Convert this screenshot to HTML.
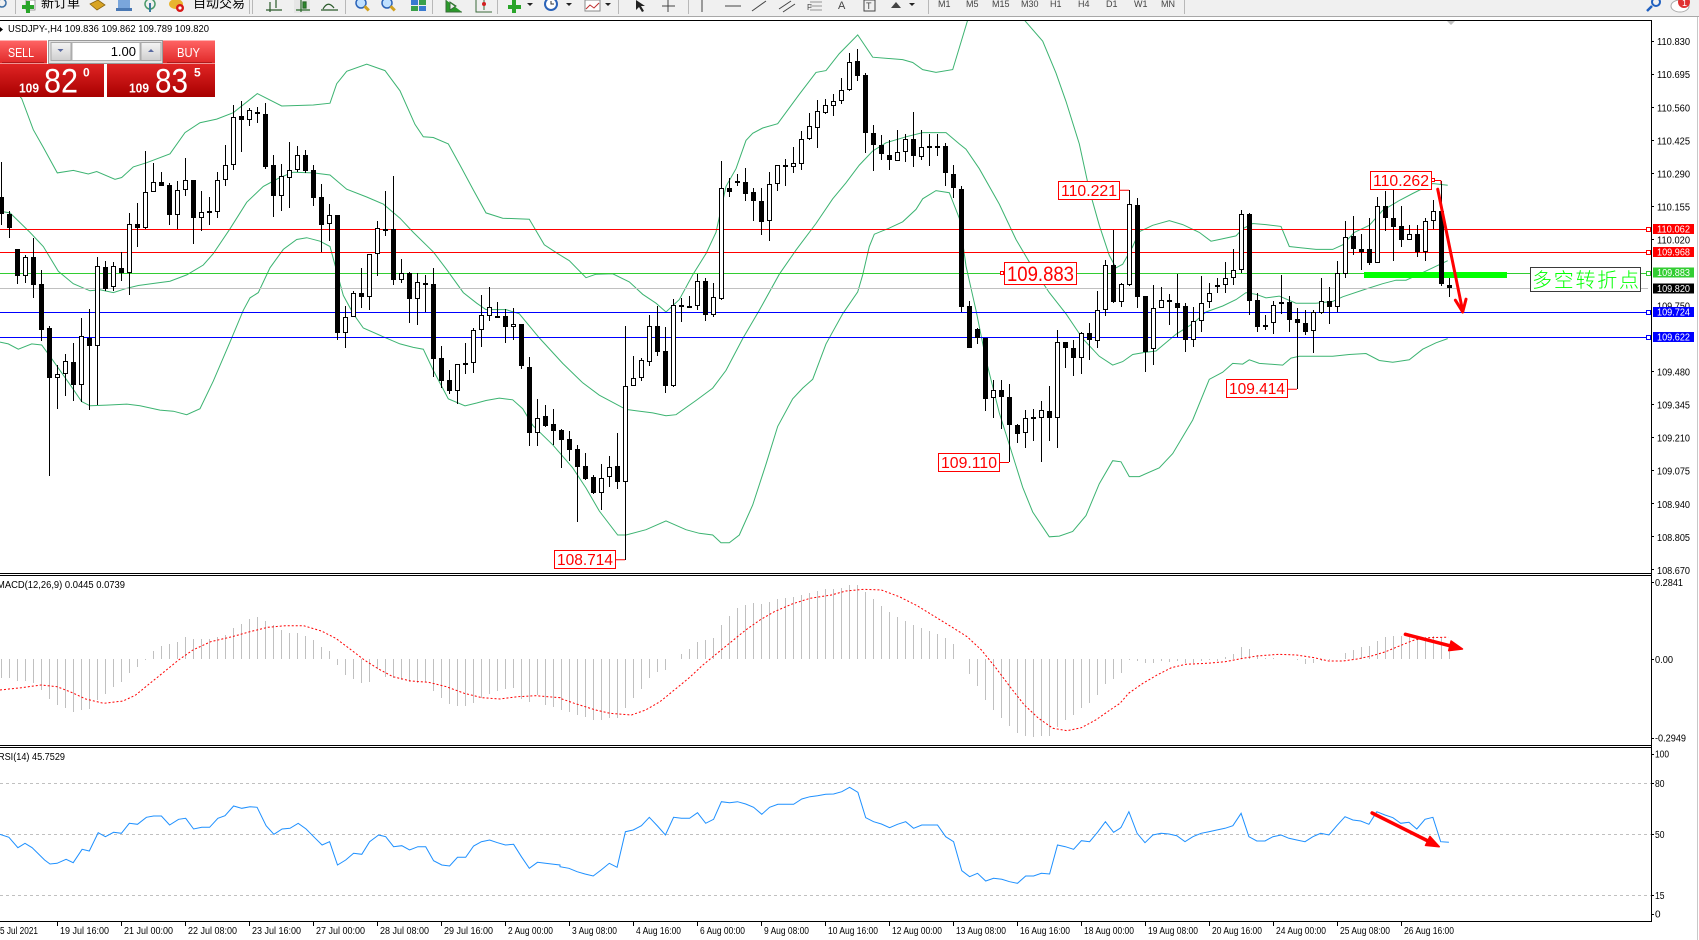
<!DOCTYPE html>
<html><head><meta charset="utf-8">
<style>
html,body{margin:0;padding:0;background:#fff;overflow:hidden;width:1699px;height:940px;}
svg{display:block;font-family:"Liberation Sans","Noto Sans CJK SC",sans-serif;}
</style></head>
<body>
<svg id="s" width="1699" height="940" viewBox="0 0 1699 940" xmlns="http://www.w3.org/2000/svg">
<defs>
 <clipPath id="cm"><rect x="0" y="21" width="1651" height="552"/></clipPath>
 <clipPath id="cd"><rect x="0" y="576" width="1651" height="169"/></clipPath>
 <clipPath id="cr"><rect x="0" y="748" width="1651" height="173"/></clipPath>
 <linearGradient id="gs" x1="0" y1="0" x2="0" y2="1"><stop offset="0" stop-color="#ff6464"/><stop offset="1" stop-color="#e02828"/></linearGradient>
 <linearGradient id="gp" x1="0" y1="0" x2="0" y2="1"><stop offset="0" stop-color="#e02424"/><stop offset="1" stop-color="#a80000"/></linearGradient>
 <linearGradient id="gb" x1="0" y1="0" x2="0" y2="1"><stop offset="0" stop-color="#f4f4f4"/><stop offset="1" stop-color="#cfcfcf"/></linearGradient>
</defs>
<rect width="1699" height="940" fill="#fff"/>

<!-- toolbar -->
<rect x="0" y="0" width="1699" height="16" fill="#f0f0f0"/>
<rect x="0" y="16" width="1699" height="1" fill="#a8a8a8"/>
<circle cx="2" cy="3" r="4" fill="none" stroke="#3a6ea5" stroke-width="1.5"/>
<rect x="15" y="0" width="1" height="14" fill="#b8b8b8"/>
<rect x="26" y="0" width="9" height="10" fill="#fff" stroke="#888" stroke-width="0.8"/>
<rect x="22" y="5" width="12" height="4" fill="#2aa52a"/><rect x="26" y="1" width="4" height="12" fill="#2aa52a"/>
<text x="41" y="7.5" font-size="13" fill="#000" font-family="Liberation Sans,Noto Sans CJK SC,sans-serif">新订单</text>
<polygon points="90,4 98,0 105,5 97,10" fill="#d8a424" stroke="#8a6410" stroke-width="0.8"/>
<rect x="118" y="0" width="12" height="8" fill="#7aa6dc"/><rect x="116" y="8" width="16" height="3" fill="#4a78b4"/>
<circle cx="150" cy="4" r="5" fill="none" stroke="#4a9a6a" stroke-width="1.5"/><rect x="149" y="3" width="2" height="9" fill="#3a7aa0"/>
<ellipse cx="176" cy="4" rx="7" ry="5" fill="#e8b430"/><circle cx="180" cy="8" r="4" fill="#d81818"/><circle cx="180" cy="8" r="1.6" fill="#fff"/>
<text x="193" y="7.5" font-size="13" fill="#000" font-family="Liberation Sans,Noto Sans CJK SC,sans-serif">自动交易</text>
<rect x="249" y="0" width="1" height="14" fill="#b8b8b8"/><rect x="252" y="0" width="1" height="14" fill="#b8b8b8"/>
<path d="M266 10 H282 M270 2 V12 M276 0 V8" stroke="#2a5a2a" stroke-width="1.2" fill="none"/>
<rect x="294" y="0" width="16" height="13" fill="#e6e6e6"/><path d="M296 10 H310 M301 0 V12 M303 2 h3 v6 h-3z" stroke="#2a6a2a" stroke-width="1.2" fill="#2a8a2a"/>
<path d="M321 10 H338 M323 9 Q328 0 334 8" stroke="#2a5a2a" stroke-width="1.2" fill="none"/>
<rect x="345" y="0" width="1" height="14" fill="#b8b8b8"/>
<circle cx="361" cy="3" r="5" fill="#bfe0ff" stroke="#2b63b8" stroke-width="1.5"/><rect x="364" y="7" width="6" height="3" fill="#d0a020" transform="rotate(45 367 8)"/>
<circle cx="387" cy="3" r="5" fill="#bfe0ff" stroke="#2b63b8" stroke-width="1.5"/><rect x="390" y="7" width="6" height="3" fill="#d0a020" transform="rotate(45 393 8)"/>
<rect x="411" y="0" width="7" height="5" fill="#3a7ad0"/><rect x="419" y="0" width="7" height="5" fill="#3aa04a"/><rect x="411" y="6" width="7" height="5" fill="#3aa04a"/><rect x="419" y="6" width="7" height="5" fill="#3a7ad0"/>
<rect x="432" y="0" width="1" height="14" fill="#b8b8b8"/>
<path d="M446 0 V12 H462 M450 2 l6 4 -6 4z" stroke="#3a6a3a" stroke-width="1" fill="#2a9a2a"/>
<path d="M476 0 V12 H492 M484 0 V10" stroke="#3a6a3a" stroke-width="1" fill="none"/><circle cx="484" cy="4" r="2" fill="#d02020"/>
<rect x="497" y="0" width="1" height="14" fill="#b8b8b8"/>
<rect x="508" y="5" width="13" height="4" fill="#2aa52a"/><rect x="512" y="0" width="4" height="13" fill="#2aa52a"/><path d="M527 3 l3 3 3-3z" fill="#222"/>
<circle cx="551" cy="4" r="6" fill="#fff" stroke="#2b63b8" stroke-width="2"/><path d="M551 1 V4 H554" stroke="#333" fill="none"/><path d="M566 3 l3 3 3-3z" fill="#222"/>
<rect x="585" y="0" width="15" height="11" fill="#fff" stroke="#888"/><path d="M586 9 l4-4 4 3 5-5" stroke="#c03030" fill="none"/><path d="M605 3 l3 3 3-3z" fill="#222"/>
<rect x="618" y="0" width="1" height="14" fill="#b8b8b8"/>
<path d="M636 0 l0 10 3-3 3 5 2-1-3-5 4 0z" fill="#222"/>
<path d="M668 0 V12 M662 6 H675" stroke="#444" stroke-width="1"/>
<rect x="688" y="0" width="1" height="14" fill="#b8b8b8"/>
<path d="M702 0 V12" stroke="#444"/><path d="M725 6 H741" stroke="#444"/><path d="M752 11 L766 1" stroke="#444"/>
<path d="M779 9 L791 1 M783 12 L795 4" stroke="#444"/><text x="807" y="10" font-size="8" fill="#444">F</text>
<path d="M810 2 H822 M810 6 H822 M810 10 H822" stroke="#777" stroke-width="0.8"/>
<text x="838" y="9" font-size="11" fill="#444">A</text><rect x="864" y="0" width="11" height="11" fill="none" stroke="#444"/><text x="866" y="9" font-size="9" fill="#444">T</text>
<path d="M891 8 l5-6 5 6z" fill="#444"/><path d="M909 3 l3 3 3-3z" fill="#222"/>
<rect x="928" y="0" width="1" height="14" fill="#b8b8b8"/>
<g font-size="9" fill="#444">
<text x="938" y="7">M1</text><text x="966" y="7">M5</text><text x="992" y="7">M15</text><text x="1021" y="7">M30</text><text x="1050" y="7">H1</text><text x="1078" y="7">H4</text><text x="1106" y="7">D1</text><text x="1134" y="7">W1</text><text x="1161" y="7">MN</text>
</g>
<rect x="1184" y="0" width="1" height="14" fill="#b8b8b8"/>
<circle cx="1656" cy="2" r="4" fill="none" stroke="#2060c0" stroke-width="2"/><path d="M1652 6 L1647 11" stroke="#2060c0" stroke-width="2.5"/>
<ellipse cx="1680" cy="6" rx="9" ry="6" fill="#fff" stroke="#aaa"/><circle cx="1684" cy="2" r="6" fill="#e03030"/><text x="1682" y="6" font-size="9" fill="#fff">1</text>

<!-- right window gray border -->
<rect x="1697" y="17" width="1" height="923" fill="#c8c8c8"/>

<!-- main chart content -->
<g clip-path="url(#cm)">
 <g id="bb" fill="none" stroke="#3cb371" stroke-width="1"></g>
 <g shape-rendering="crispEdges">
  <rect x="0" y="229" width="1648" height="1" fill="#ff0000"/>
  <rect x="0" y="252" width="1648" height="1" fill="#ff0000"/>
  <rect x="0" y="273" width="1648" height="1" fill="#32cd32"/>
  <rect x="0" y="288" width="1648" height="1" fill="#c0c0c0"/>
  <rect x="0" y="312" width="1648" height="1" fill="#0000ff"/>
  <rect x="0" y="337" width="1648" height="1" fill="#0000ff"/>
 </g>
 <rect x="1364" y="272" width="143" height="6" fill="#00ff00"/>
 <g id="candles" shape-rendering="crispEdges"></g>
 <!-- line end markers -->
 <g fill="#fff" stroke-width="1">
  <rect x="1646.5" y="227.5" width="4" height="4" stroke="#ff0000"/>
  <rect x="1646.5" y="250.5" width="4" height="4" stroke="#ff0000"/>
  <rect x="1646.5" y="271.5" width="4" height="4" stroke="#32cd32"/>
  <rect x="1646.5" y="310.5" width="4" height="4" stroke="#0000ff"/>
  <rect x="1646.5" y="335.5" width="4" height="4" stroke="#0000ff"/>
 </g>
 <!-- price label objects -->
 <g fill="#fff" stroke="#ff0000" stroke-width="1">
  <rect x="554.5" y="550.5" width="61" height="18"/>
  <rect x="938.5" y="453.5" width="61" height="18"/>
  <rect x="1058.5" y="181.5" width="61" height="18"/>
  <rect x="1226.5" y="379.5" width="61" height="18"/>
  <rect x="1370.5" y="171.5" width="61" height="18"/>
  <rect x="1004.5" y="262.5" width="72" height="22"/>
  <path d="M615.5 559.8 H625 M999.5 462.5 H1009 M1119.5 190.3 H1129 M1287.5 389.2 H1297 M1431.5 180.5 H1441 M1441 180.5 V184" fill="none"/>
  <rect x="1431.5" y="178.5" width="3" height="3"/>
  <rect x="1000.5" y="271.5" width="3" height="3"/>
 </g>
 <g fill="#ff0000" font-size="16">
  <text x="557" y="565" textLength="56" lengthAdjust="spacingAndGlyphs">108.714</text>
  <text x="941" y="468" textLength="56" lengthAdjust="spacingAndGlyphs">109.110</text>
  <text x="1061" y="196" textLength="56" lengthAdjust="spacingAndGlyphs">110.221</text>
  <text x="1229" y="394" textLength="56" lengthAdjust="spacingAndGlyphs">109.414</text>
  <text x="1373" y="186" textLength="56" lengthAdjust="spacingAndGlyphs">110.262</text>
  <text x="1007" y="281" font-size="21" textLength="67" lengthAdjust="spacingAndGlyphs">109.883</text>
 </g>
 <!-- red arrow -->
 <g stroke="#ff0000" stroke-width="3" fill="none" stroke-linecap="round" stroke-linejoin="round">
  <path d="M1437.7 189.2 L1462.7 311"/>
  <path d="M1455.4 300.2 L1462.7 312 L1466 299.2"/>
 </g>
 <!-- chinese label -->
 <rect x="1530.5" y="267.5" width="110" height="24" fill="#fff" stroke="#3a3a3a" stroke-width="1"/>
 <text x="1532" y="287" font-size="20" font-weight="300" fill="#00ff00" textLength="107" lengthAdjust="spacing" font-family="Liberation Sans,Noto Sans CJK SC,sans-serif">多空转折点</text>
 <polygon points="1447,21 1455,21 1451,25" fill="#c0c0c0"/>
</g>

<!-- MACD -->
<g clip-path="url(#cd)">
 <g id="hist" shape-rendering="crispEdges" fill="#c0c0c0"></g>
 <polyline id="sig" fill="none" stroke="#ff0000" stroke-width="1" stroke-dasharray="2,2"/>
 <g stroke="#ff0000" stroke-width="3.5" fill="#ff0000" stroke-linecap="round">
  <path d="M1405.4 634.3 L1452 646.3"/>
  <polygon points="1462.5,649 1448.7,650.6 1451.1,641" stroke-width="1.5" stroke-linejoin="round"/>
 </g>
</g>
<text x="-3" y="588" font-size="10" fill="#000" textLength="128" lengthAdjust="spacingAndGlyphs">MACD(12,26,9) 0.0445 0.0739</text>

<!-- RSI -->
<g clip-path="url(#cr)">
 <g stroke="#c0c0c0" stroke-width="1" stroke-dasharray="3,3">
  <path d="M0 783.5 H1651 M0 834.5 H1651 M0 895.5 H1651"/>
 </g>
 <polyline id="rsi" fill="none" stroke="#1e90ff" stroke-width="1"/>
 <g stroke="#ff0000" stroke-width="3.5" fill="#ff0000" stroke-linecap="round">
  <path d="M1372.1 813 L1430 842"/>
  <polygon points="1439.3,846.7 1425.5,845.4 1429.9,836.4" stroke-width="1.5" stroke-linejoin="round"/>
 </g>
</g>
<text x="-2" y="760" font-size="10" fill="#000" textLength="67" lengthAdjust="spacingAndGlyphs">RSI(14) 45.7529</text>

<!-- frames -->
<g shape-rendering="crispEdges" fill="#000">
 <rect x="0" y="20" width="1651" height="1"/>
 <rect x="0" y="573" width="1652" height="1"/>
 <rect x="0" y="575" width="1652" height="1"/>
 <rect x="0" y="745" width="1652" height="1"/>
 <rect x="0" y="747" width="1652" height="1"/>
 <rect x="0" y="921" width="1652" height="1"/>
 <rect x="1651" y="20" width="1" height="902"/>
</g>

<!-- main title -->
<polygon points="0,27 3,29.5 0,32" fill="#000"/>
<text x="8" y="32" font-size="10.5" fill="#000" textLength="201" lengthAdjust="spacingAndGlyphs">USDJPY-,H4  109.836 109.862 109.789 109.820</text>

<!-- SELL/BUY panel -->
<rect x="0" y="40.5" width="47" height="23" fill="url(#gs)"/>
<rect x="2" y="62" width="42" height="1" fill="#b01818"/>
<text x="8" y="57" font-size="13" fill="#fff" textLength="26" lengthAdjust="spacingAndGlyphs">SELL</text>
<rect x="48.5" y="40.5" width="114" height="23" fill="#e2e2e2" stroke="#9a9a9a"/>
<rect x="51" y="42.5" width="20" height="18" fill="url(#gb)" stroke="#a8a8a8"/>
<polygon points="57.5,49 63.5,49 60.5,52" fill="#5a6aa0"/>
<rect x="72" y="42.5" width="68" height="18" fill="#fff" stroke="#b0b0b0"/>
<text x="136" y="56" font-size="13" fill="#000" text-anchor="end">1.00</text>
<rect x="141" y="42.5" width="20" height="18" fill="url(#gb)" stroke="#a8a8a8"/>
<polygon points="148,52 154,52 151,49" fill="#5a6aa0"/>
<rect x="163" y="40.5" width="52" height="23" fill="url(#gs)"/>
<rect x="167" y="62" width="45" height="1" fill="#b01818"/>
<text x="177" y="57" font-size="13" fill="#fff" textLength="23" lengthAdjust="spacingAndGlyphs">BUY</text>
<rect x="0" y="64" width="104" height="33" fill="url(#gp)"/>
<rect x="107" y="64" width="108" height="33" fill="url(#gp)"/>
<g fill="#fff">
 <text x="19" y="92.5" font-size="13" font-weight="bold" textLength="20" lengthAdjust="spacingAndGlyphs">109</text>
 <text x="44" y="92.5" font-size="34" textLength="34" lengthAdjust="spacingAndGlyphs">82</text>
 <text x="83" y="76.5" font-size="12" font-weight="bold">0</text>
 <text x="129" y="92.5" font-size="13" font-weight="bold" textLength="20" lengthAdjust="spacingAndGlyphs">109</text>
 <text x="155" y="92.5" font-size="34" textLength="33" lengthAdjust="spacingAndGlyphs">83</text>
 <text x="194" y="76.5" font-size="12" font-weight="bold">5</text>
</g>

<!-- price axis -->
<g shape-rendering="crispEdges" fill="#000">
 <rect x="1651" y="41" width="3" height="1"/><rect x="1651" y="74" width="3" height="1"/><rect x="1651" y="107" width="3" height="1"/><rect x="1651" y="140" width="3" height="1"/><rect x="1651" y="173" width="3" height="1"/><rect x="1651" y="206" width="3" height="1"/><rect x="1651" y="239" width="3" height="1"/><rect x="1651" y="371" width="3" height="1"/><rect x="1651" y="404" width="3" height="1"/><rect x="1651" y="437" width="3" height="1"/><rect x="1651" y="470" width="3" height="1"/><rect x="1651" y="503" width="3" height="1"/><rect x="1651" y="536" width="3" height="1"/><rect x="1651" y="569" width="3" height="1"/>
 <rect x="1651" y="582" width="3" height="1"/><rect x="1651" y="659" width="3" height="1"/><rect x="1651" y="738" width="3" height="1"/>
 <rect x="1651" y="754" width="3" height="1"/><rect x="1651" y="783" width="3" height="1"/><rect x="1651" y="834" width="3" height="1"/><rect x="1651" y="895" width="3" height="1"/><rect x="1651" y="914" width="3" height="1"/>
</g>
<g font-size="10" fill="#000">
 <text x="1657" y="45.2" textLength="33" lengthAdjust="spacingAndGlyphs">110.830</text>
 <text x="1657" y="78.2" textLength="33" lengthAdjust="spacingAndGlyphs">110.695</text>
 <text x="1657" y="111.3" textLength="33" lengthAdjust="spacingAndGlyphs">110.560</text>
 <text x="1657" y="144.3" textLength="33" lengthAdjust="spacingAndGlyphs">110.425</text>
 <text x="1657" y="177.4" textLength="33" lengthAdjust="spacingAndGlyphs">110.290</text>
 <text x="1657" y="210.4" textLength="33" lengthAdjust="spacingAndGlyphs">110.155</text>
 <text x="1657" y="243.5" textLength="33" lengthAdjust="spacingAndGlyphs">110.020</text>
 <text x="1657" y="309.5" textLength="33" lengthAdjust="spacingAndGlyphs">109.750</text>
 <text x="1657" y="375.6" textLength="33" lengthAdjust="spacingAndGlyphs">109.480</text>
 <text x="1657" y="408.6" textLength="33" lengthAdjust="spacingAndGlyphs">109.345</text>
 <text x="1657" y="441.7" textLength="33" lengthAdjust="spacingAndGlyphs">109.210</text>
 <text x="1657" y="474.7" textLength="33" lengthAdjust="spacingAndGlyphs">109.075</text>
 <text x="1657" y="507.8" textLength="33" lengthAdjust="spacingAndGlyphs">108.940</text>
 <text x="1657" y="540.8" textLength="33" lengthAdjust="spacingAndGlyphs">108.805</text>
 <text x="1657" y="573.8" textLength="33" lengthAdjust="spacingAndGlyphs">108.670</text>
 <text x="1655" y="585.8" textLength="28" lengthAdjust="spacingAndGlyphs">0.2841</text>
 <text x="1655" y="662.8" textLength="18" lengthAdjust="spacingAndGlyphs">0.00</text>
 <text x="1655" y="741.5" textLength="31" lengthAdjust="spacingAndGlyphs">-0.2949</text>
 <text x="1655" y="757.5" textLength="14" lengthAdjust="spacingAndGlyphs">100</text>
 <text x="1655" y="786.8" textLength="9.5" lengthAdjust="spacingAndGlyphs">80</text>
 <text x="1655" y="837.8" textLength="9.5" lengthAdjust="spacingAndGlyphs">50</text>
 <text x="1655" y="898.8" textLength="9.5" lengthAdjust="spacingAndGlyphs">15</text>
 <text x="1655" y="917.5">0</text>
</g>
<!-- coloured axis labels -->
<g shape-rendering="crispEdges">
 <rect x="1653" y="224" width="41" height="10" fill="#ff0000"/>
 <rect x="1653" y="247" width="41" height="10" fill="#ff0000"/>
 <rect x="1653" y="267.5" width="41" height="10" fill="#32cd32"/>
 <rect x="1653" y="283.5" width="41" height="10" fill="#000000"/>
 <rect x="1653" y="307" width="41" height="10" fill="#0000ff"/>
 <rect x="1653" y="332" width="41" height="10" fill="#0000ff"/>
</g>
<g font-size="10" fill="#fff">
 <text x="1657" y="232.7" textLength="33" lengthAdjust="spacingAndGlyphs">110.062</text>
 <text x="1657" y="255.7" textLength="33" lengthAdjust="spacingAndGlyphs">109.968</text>
 <text x="1657" y="276.2" textLength="33" lengthAdjust="spacingAndGlyphs">109.883</text>
 <text x="1657" y="292.2" textLength="33" lengthAdjust="spacingAndGlyphs">109.820</text>
 <text x="1657" y="315.7" textLength="33" lengthAdjust="spacingAndGlyphs">109.724</text>
 <text x="1657" y="340.7" textLength="33" lengthAdjust="spacingAndGlyphs">109.622</text>
</g>

<!-- time axis -->
<g id="tticks" shape-rendering="crispEdges" fill="#000"></g>
<g font-size="10" fill="#000">
 <text x="0" y="934" textLength="38" lengthAdjust="spacingAndGlyphs">5 Jul 2021</text>
 <text x="60" y="934" textLength="49" lengthAdjust="spacingAndGlyphs">19 Jul 16:00</text>
 <text x="124" y="934" textLength="49" lengthAdjust="spacingAndGlyphs">21 Jul 00:00</text>
 <text x="188" y="934" textLength="49" lengthAdjust="spacingAndGlyphs">22 Jul 08:00</text>
 <text x="252" y="934" textLength="49" lengthAdjust="spacingAndGlyphs">23 Jul 16:00</text>
 <text x="316" y="934" textLength="49" lengthAdjust="spacingAndGlyphs">27 Jul 00:00</text>
 <text x="380" y="934" textLength="49" lengthAdjust="spacingAndGlyphs">28 Jul 08:00</text>
 <text x="444" y="934" textLength="49" lengthAdjust="spacingAndGlyphs">29 Jul 16:00</text>
 <text x="508" y="934" textLength="45" lengthAdjust="spacingAndGlyphs">2 Aug 00:00</text>
 <text x="572" y="934" textLength="45" lengthAdjust="spacingAndGlyphs">3 Aug 08:00</text>
 <text x="636" y="934" textLength="45" lengthAdjust="spacingAndGlyphs">4 Aug 16:00</text>
 <text x="700" y="934" textLength="45" lengthAdjust="spacingAndGlyphs">6 Aug 00:00</text>
 <text x="764" y="934" textLength="45" lengthAdjust="spacingAndGlyphs">9 Aug 08:00</text>
 <text x="828" y="934" textLength="50" lengthAdjust="spacingAndGlyphs">10 Aug 16:00</text>
 <text x="892" y="934" textLength="50" lengthAdjust="spacingAndGlyphs">12 Aug 00:00</text>
 <text x="956" y="934" textLength="50" lengthAdjust="spacingAndGlyphs">13 Aug 08:00</text>
 <text x="1020" y="934" textLength="50" lengthAdjust="spacingAndGlyphs">16 Aug 16:00</text>
 <text x="1084" y="934" textLength="50" lengthAdjust="spacingAndGlyphs">18 Aug 00:00</text>
 <text x="1148" y="934" textLength="50" lengthAdjust="spacingAndGlyphs">19 Aug 08:00</text>
 <text x="1212" y="934" textLength="50" lengthAdjust="spacingAndGlyphs">20 Aug 16:00</text>
 <text x="1276" y="934" textLength="50" lengthAdjust="spacingAndGlyphs">24 Aug 00:00</text>
 <text x="1340" y="934" textLength="50" lengthAdjust="spacingAndGlyphs">25 Aug 08:00</text>
 <text x="1404" y="934" textLength="50" lengthAdjust="spacingAndGlyphs">26 Aug 16:00</text>
</g>
</svg>
<script>
(function(){
var NS='http://www.w3.org/2000/svg';
function el(p,t,a){var e=document.createElementNS(NS,t);for(var k in a)e.setAttribute(k,a[k]);p.appendChild(e);return e;}
function P(arr,x0,sx,y0,sy){var o=[];for(var i=0;i<arr.length;i+=2)o.push((x0+arr[i]/sx).toFixed(1)+','+(y0+arr[i+1]/sy).toFixed(1));return o;}
var C=[
400,500,548,580,0, 540,548,587,615,0, 648,648,724,745,0, 665,670,724,742,1, 616,670,748,784,0,
706,746,875,908,0, 865,870,1010,1287,0, 975,1000,1010,1098,1, 944,964,1001,1062,1, 912,966,1030,1075,0,
842,894,1030,1078,1, 816,897,920,1103,0, 670,696,922,1087,1, 680,698,760,766,0, 684,696,755,766,1,
654,702,714,738,0, 546,577,714,776,1, 517,577,587,640,0, 370,487,587,590,1, 404,458,487,487,1,
430,458,468,470,0, 460,466,552,580,0, 455,479,552,590,1, 390,453,479,496,1, 453,453,558,632,0,
484,543,560,595,1, 500,540,543,580,0, 428,451,543,560,1, 353,410,453,468,1, 240,275,410,425,1,
230,271,283,372,0, 248,255,283,300,1, 245,260,262,290,0, 235,266,414,422,0, 382,410,496,557,0,
408,440,496,540,1, 345,425,446,532,1, 355,380,425,430,1, 368,380,427,432,0, 410,425,502,525,0,
462,500,580,655,0, 520,550,577,625,1, 552,552,885,903,0, 808,838,885,928,1, 766,772,838,840,1,
702,772,782,815,0, 662,662,782,818,1, 567,587,662,722,1, 482,590,596,610,0, 441,590,735,750,0,
676,715,735,742,1, 712,715,788,856,0, 716,740,788,862,1, 720,742,748,826,0, 702,746,958,1008,0,
920,955,1020,1040,0, 990,1017,1048,1056,0, 972,972,1048,1085,1, 912,968,975,1000,1, 870,876,970,998,1,
776,833,876,925,1, 755,810,835,850,1,
797,836,838,840,0, 817,836,868,913,0, 815,860,868,903,1, 860,860,978,985,0, 953,980,1168,1203,0,
1072,1123,1168,1203,1, 1088,1120,1146,1150,0, 1100,1140,1160,1200,0, 1155,1158,1186,1265,0, 1160,1185,1214,1245,0,
1200,1212,1262,1417,0, 1223,1260,1297,1300,0, 1285,1290,1335,1340,0, 1253,1295,1337,1383,1, 1232,1262,1292,1318,1,
1167,1260,1304,1325,0, 865,1035,1304,1525,1, 948,1010,1035,1035,1, 955,960,1010,1020,1, 833,865,965,978,1,
808,865,937,950,0, 868,935,1035,1053,0, 788,805,1035,1038,1, 785,806,808,852,1, 780,808,812,815,0,
717,738,808,818,1, 728,738,832,850,0, 744,783,832,838,1, 397,476,787,790,1, 446,476,486,500,0,
436,456,460,468,0, 418,458,491,510,0, 475,486,510,567,0, 475,510,570,608,0, 428,462,567,624,1,
409,410,462,483,1, 393,410,415,470,0, 360,405,416,432,1, 314,335,406,425,1, 262,300,335,340,1,
226,258,306,363,1, 222,240,262,266,1, 210,228,242,270,1, 165,197,228,236,1, 92,120,197,200,1,
82,117,157,172,0, 150,155,318,375,0, 297,318,352,427,0, 325,352,378,395,0, 340,380,396,423,0,
312,374,397,398,1, 322,337,374,400,1, 260,337,385,415,0, 312,360,388,396,1, 322,356,362,413,0,
322,356,358,385,0, 348,355,433,468,0, 410,435,476,502,0, 470,477,810,825,0, 795,808,928,928,0,
870,873,897,915,0, 897,897,1070,1105,0, 1018,1045,1068,1125,1, 1018,1045,1065,1155,0, 1028,1065,1145,1250,0,
1140,1143,1170,1195,0, 1103,1123,1168,1210,1, 1098,1121,1124,1190,1, 1077,1103,1123,1250,1, 1035,1105,1125,1188,0,
877,910,1125,1210,1, 910,910,928,983,0, 905,928,956,1005,0, 880,885,956,1000,1, 857,885,905,960,0,
765,818,908,928,1, 678,692,818,835,1, 593,692,798,800,0, 742,745,798,812,1, 480,520,750,752,1,
503,522,783,815,0, 780,780,937,995,0, 750,815,930,975,1, 755,790,813,815,1, 775,790,798,863,0,
718,800,813,895,0, 800,808,905,937,0, 812,850,905,925,1, 722,800,850,880,1, 742,772,798,815,1,
730,748,750,772,1, 685,730,750,772,1, 648,707,730,750,1, 537,548,707,714,1, 545,548,793,832,0,
770,792,868,880,0, 832,862,868,875,1, 793,805,857,888,1, 720,797,803,830,1, 780,797,847,882,0,
815,845,857,1043,0, 820,857,880,890,0, 820,825,878,940,1, 730,795,828,830,1, 755,795,812,858,0,
680,715,812,825,1, 568,613,718,730,1, 553,610,648,663,0, 605,648,654,705,0, 560,648,686,692,0,
500,525,686,686,1, 482,525,560,595,0, 480,560,585,680,0, 525,582,622,640,0, 578,604,622,622,1,
580,605,655,670,0, 560,567,655,680,1, 508,540,567,590,1, 455,540,745,752,0, 730,748,758,782,0
];
var gC=document.getElementById('candles');
var n=C.length/5;
for(var i=0;i<n;i++){
 var hi=20+C[i*5]/2.825, top=20+C[i*5+1]/2.825, bot=20+C[i*5+2]/2.825, lo=20+C[i*5+3]/2.825, w=C[i*5+4];
 var cx=1+8*i;
 el(gC,'rect',{x:cx,y:Math.round(hi),width:1,height:Math.max(1,Math.round(lo)-Math.round(hi)),fill:'#000'});
 var t=Math.round(top), b=Math.round(bot), h=b-t;
 if(w && h>=3){ el(gC,'rect',{x:cx-1.5,y:t+0.5,width:4,height:h-1,fill:'#fff',stroke:'#000','stroke-width':1}); }
 else { el(gC,'rect',{x:cx-2,y:t,width:5,height:Math.max(h,2),fill:'#000'}); }
}
var Z7U=[0,150,65,222,100,310,130,360,172,432,220,425,265,435,290,428,345,450,365,445,400,415,440,403,510,378,555,318,600,290,650,280,700,262,772,208,845,243,940,240,990,235,1010,180,1040,145,1100,125,1155,143,1200,200,1245,295,1270,330,1300,332,1345,350,1380,410,1420,480,1470,560];
var Z8U=[0,545,50,560,130,563,175,635,215,660,250,680,300,728,330,718,380,717,430,740,470,775,510,800,540,825,580,790,620,720,660,660,690,600,720,470,750,420,780,340,800,320,830,305,875,293,940,210,990,148,1020,143,1060,95,1115,42,1160,105,1250,112,1280,120,1310,140,1350,148,1400,140,1445,0,1460,-40];
var Z9U=[160,-40,175,0,230,60,270,150,300,230,340,350,370,480,400,580,430,665,450,700,470,690,500,640,520,598,560,580,610,567,650,578,700,600,735,625,760,620,810,610,830,590,860,575,900,578,945,583,970,640,1000,643,1050,648,1100,648,1130,635,1165,600,1210,580,1250,538,1300,510,1340,490,1400,462,1445,467];
var Z7M=[0,540,30,545,90,600,130,640,175,710,220,745,270,765,300,762,340,770,380,758,415,750,470,743,510,738,560,720,610,692,640,660,690,590,740,515,790,470,840,445,880,430,940,432,990,438,1040,478,1100,500,1150,520,1200,560,1240,600,1300,655,1340,705,1390,770,1430,800,1470,815];
var Z8M=[0,818,60,818,100,830,160,898,230,970,290,1025,340,1060,380,1080,420,1100,500,1110,540,1118,570,1115,630,1075,680,1040,720,990,770,900,820,820,880,718,930,650,990,575,1040,505,1080,460,1120,410,1160,370,1200,347,1260,330,1310,318,1380,318,1420,350,1470,397];
var Z9M=[0,365,40,420,100,520,150,620,200,700,250,770,300,830,350,900,400,950,440,975,470,965,500,945,530,940,570,935,630,888,680,858,720,825,770,808,810,790,840,770,870,775,900,785,940,780,990,800,1050,800,1100,795,1130,782,1200,760,1250,745,1290,735,1320,735,1360,718,1400,700,1445,680];
var Z7L=[0,910,25,915,55,930,95,915,125,918,150,950,210,1030,245,1078,270,1090,320,1088,380,1085,420,1090,480,1102,520,1105,560,1115,600,1098,640,1020,690,910,730,820,750,785,775,770,810,700,850,648,890,620,920,615,960,625,990,640,1010,710,1030,778,1060,830,1090,870,1150,895,1200,915,1240,925,1270,930,1300,990,1345,1070,1395,1090,1430,1082,1470,1068];
var Z8L=[0,1075,40,1068,80,1073,110,1098,140,1145,200,1200,260,1265,300,1322,340,1387,395,1455,420,1455,480,1440,540,1415,600,1440,640,1450,680,1455,705,1477,730,1477,760,1455,800,1370,840,1255,875,1148,920,1070,950,1040,980,1015,1020,915,1070,830,1115,768,1130,720,1150,640,1165,605,1210,588,1250,570,1290,535,1310,505,1350,482,1390,488,1420,560];
var Z9L=[0,695,30,820,60,960,100,1110,140,1230,170,1320,200,1390,250,1460,280,1458,320,1445,360,1400,400,1310,440,1245,465,1248,490,1290,520,1290,580,1265,620,1225,680,1130,730,1015,770,995,800,970,830,972,850,960,880,970,950,975,975,955,1000,950,1100,950,1150,945,1200,942,1240,962,1280,967,1330,960,1370,930,1410,912,1445,900];
var bb=document.getElementById('bb');
function bl(a,b,c){el(bb,'polyline',{points:a.concat(b,c).join(' ')});}
bl(P(Z7U.slice(0,-2),0,3,20,2.825),P(Z8U,486,3,20,2.825),P(Z9U,966,3,20,2.825));
bl(P(Z7M.slice(0,-2),0,3,20,2.825),P(Z8M.slice(0,-2),486,3,20,2.825),P(Z9M,966,3,20,2.825));
bl(P(Z7L.slice(0,-2),0,3,20,2.825),P(Z8L,486,3,20,2.825),P(Z9L,966,3,20,2.825));
var H=[310,308,318,318,325,345,372,390,398,410,405,402,375,357,335,320,295,275,255,228,212,207,202,185,192,192,192,187,180,158,147,133,126,137,150,165,173,173,183,195,215,228,270,300,312,325,320,282,305,308,315,322,325,320,348,368,388,393,393,385,370,357,348,342,340,372,380,360,390,395,
405,410,420,425,435,435,428,428,400,368,342,308,290,285,253,237,222,200,195,188,150,122,100,90,85,87,80,72,68,65,60,55,48,42,42,38,30,30,50,72,93,110,125,138,150,158,168,178,188,207,252,297,332,375,405,428,452,473,482,485,482,482,455,435,420,398,383,360,326,312,
293,255,258,265,265,258,260,258,265,265,258,255,258,245,237,215,222,240,248,248,252,252,255,268,265,258,255,253,233,225,215,212,198,185,183,183,185,185,185,183,190,210];
var gh=document.getElementById('hist');var z0=659;
for(var j=0;j<H.length;j++){var y=Math.round(575+H[j]/3);var y1=Math.min(y,z0),y2=Math.max(y,z0);if(y2-y1<1)continue;el(gh,'rect',{x:1+8*j,y:y1,width:1,height:y2-y1});}
var S10=[0,345,60,338,115,330,160,335,200,352,240,372,290,385,345,378,380,360,420,325,460,290,500,255,540,225,590,200,650,185,700,170,750,157,800,152,850,152,900,168,940,190,980,222,1020,255,1060,282,1100,305,1150,318,1200,322,1250,335,1300,355,1350,368,1400,372,1450,365,1500,362,1568,368];
var S11=[0,370,40,385,100,405,140,415,200,420,240,405,280,380,320,345,360,310,400,270,440,235,480,200,520,165,560,135,600,110,650,87,700,70,760,60,800,48,850,43,900,45,950,65,1000,92,1050,125,1100,158,1140,185,1180,225,1220,278,1260,335,1300,390,1340,430,1380,460,1420,467,1460,458,1500,435,1540,405,1568,385];
var S12=[0,430,40,400,80,355,120,325,160,300,200,278,240,268,300,265,350,260,400,250,440,243,500,238,550,240,600,248,640,258,680,258,720,252,760,243,800,230,840,212,880,195,920,188,960,187,975,187];
document.getElementById('sig').setAttribute('points',P(S10,0,2.8,575,3).concat(P(S11,560,2.8,575,3),P(S12.slice(4),1100,2.8,575,3)).join(' '));
var R10=[0,778,25,787,50,818,70,805,90,818,125,855,140,867,160,865,185,853,205,863,230,823,250,828,275,773,295,785,318,772,340,775,362,745,385,748,410,727,430,723,452,723,475,750,500,733,520,730,542,762,565,757,587,757,610,730,630,722,654,693,677,700,700,695,720,697,745,752,767,778,790,762,812,760,835,745,857,762,880,787,902,810,923,800,945,870,968,855,990,835,1013,838,1035,800,1060,780,1080,785,1102,815,1125,812,1147,825,1170,815,1192,815,1214,857,1237,870,1259,873,1281,847,1304,847,1326,813,1348,800,1371,795,1393,803,1415,810,1438,808,1460,845,1482,880,1505,862,1527,865,1550,868,1568,870];
var R11=[0,875,25,880,48,890,70,897,93,903,115,885,138,865,160,877,183,770,205,765,228,752,250,727,273,753,295,780,318,727,340,730,363,730,385,713,408,745,430,733,452,680,475,683,497,680,520,687,542,697,565,718,587,697,610,688,654,688,677,672,700,665,721,662,744,658,766,657,789,650,811,637,834,652,856,728,878,740,900,747,923,758,945,748,968,740,990,760,1013,750,1035,750,1057,750,1080,785,1102,800,1125,887,1147,905,1169,895,1192,918,1214,910,1237,913,1259,920,1281,925,1304,903,1326,903,1348,895,1371,897,1393,810,1415,815,1438,823,1460,797,1483,800,1505,772,1527,740,1550,772,1568,760];
var R12=[0,760,14,740,36,772,59,757,81,710,104,775,126,803,148,780,171,775,193,777,215,782,238,800,260,785,283,775,305,770,327,765,350,760,372,752,395,715,417,785,439,798,462,798,484,785,507,780,529,790,551,795,574,800,596,785,618,775,641,780,663,752,686,725,708,735,730,738,753,748,775,710,798,720,820,728,842,745,865,742,887,762,910,733,932,727,954,800,977,802];
document.getElementById('rsi').setAttribute('points',P(R10,0,2.8,575,3).concat(P(R11,560,2.8,575,3),P(R12.slice(6),1100,2.8,575,3)).join(' '));
var tt=document.getElementById('tticks');
for(var k=0;k<22;k++){el(tt,'rect',{x:57+64*k,y:922,width:1,height:4});}
})();
</script>
</body></html>
